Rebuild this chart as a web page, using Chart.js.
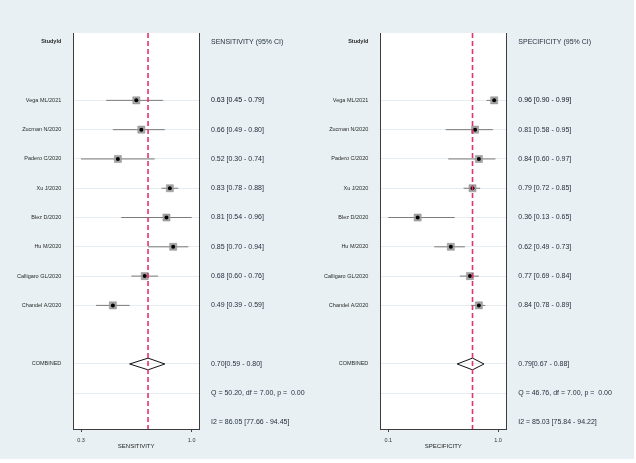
<!DOCTYPE html>
<html><head><meta charset="utf-8">
<script src="https://cdn.jsdelivr.net/npm/chart.js@4/dist/chart.umd.min.js"></script>
<style>
html,body{margin:0;padding:0;background:#fff;}
#bg{position:absolute;left:0;top:0;width:634px;height:459px;background:#e8f0f3;}
canvas{position:absolute;top:0;}
</style></head><body>
<div id="bg"></div>
<canvas id="c1" width="316" height="463" style="left:0px"></canvas>
<canvas id="c2" width="320" height="463" style="left:316px"></canvas>
<script>
// ---- data ----
const studies = ["Vega ML/2021","Zucman N/2020","Padero C/2020","Xu J/2020","Blez D/2020","Hu M/2020","Calligaro GL/2020","Chandel A/2020"];
const sensEst = [0.63,0.66,0.52,0.83,0.81,0.85,0.68,0.49];
const sensLo  = [0.45,0.49,0.30,0.78,0.54,0.70,0.60,0.39];
const sensHi  = [0.79,0.80,0.74,0.88,0.96,0.94,0.76,0.59];
const specEst = [0.96,0.81,0.84,0.79,0.36,0.62,0.77,0.84];
const specLo  = [0.90,0.58,0.60,0.72,0.13,0.49,0.69,0.78];
const specHi  = [0.99,0.95,0.97,0.85,0.65,0.73,0.84,0.89];
const sensPooled = [0.70,0.59,0.80];   // estimate, low, high
const specPooled = [0.79,0.67,0.88];
const sensHet = ["Q = 50.20, df = 7.00, p =  0.00","I2 = 86.05 [77.66 - 94.45]"];
const specHet = ["Q = 46.76, df = 7.00, p =  0.00","I2 = 85.03 [75.84 - 94.22]"];
const sensTicks = [0.30,0.96];
const specTicks = [0.13,0.99];

// ---- layout rows ----
const rows = [0,1,2,3,4,5,6,7,8,9,10,11,12,13];
const studyRows = [2,3,4,5,6,7,8,9];
const combRow = 11;
const gridRows = [2,3,4,5,6,7,8,9,11,12];
const YMIN = -0.3, YMAX = 13.22;
const F = "'Liberation Sans', Arial, sans-serif";

const fmt = (e,l,h)=>e.toFixed(2)+" ["+l.toFixed(2)+" - "+h.toFixed(2)+"]";

const bgPlugin = {id:'plotbg', beforeDraw(chart){
  const {ctx, chartArea:a} = chart;
  ctx.save(); ctx.fillStyle='#ffffff';
  ctx.fillRect(a.left, a.top, a.right-a.left, a.bottom-a.top); ctx.restore();
}};

function panel(id, c){
  const leftLabels = rows.map(()=> "");
  const rightLabels = rows.map(()=> "");
  leftLabels[0] = "StudyId"; rightLabels[0] = c.header;
  studies.forEach((s,i)=>{ leftLabels[studyRows[i]] = s; rightLabels[studyRows[i]] = fmt(c.est[i],c.lo[i],c.hi[i]); });
  leftLabels[combRow] = "COMBINED";
  rightLabels[combRow] = c.pooled[0].toFixed(2)+"["+c.pooled[1].toFixed(2)+" - "+c.pooled[2].toFixed(2)+"]";
  rightLabels[12] = c.het[0]; rightLabels[13] = c.het[1];

  const ci = [];
  studies.forEach((s,i)=>{ ci.push({x:c.lo[i],y:studyRows[i]},{x:c.hi[i],y:studyRows[i]},{x:null,y:null}); });
  const pts = studies.map((s,i)=>({x:c.est[i],y:studyRows[i]}));
  const dh = 0.2;
  const diamond = [{x:c.pooled[1],y:combRow},{x:c.pooled[0],y:combRow-dh},{x:c.pooled[2],y:combRow},{x:c.pooled[0],y:combRow+dh},{x:c.pooled[1],y:combRow}];
  const vline = [{x:c.pooled[0],y:YMIN},{x:c.pooled[0],y:YMAX}];

  const yTicks = s=>{ s.ticks = rows.map(v=>({value:v})); };

  new Chart(document.getElementById(id), {
    type:'scatter',
    data:{datasets:[
      {type:'line', data:vline, borderColor:'#e0356b', borderWidth:1.6, borderDash:[5,3], pointRadius:0, fill:false, order:0},
      {data:pts, pointStyle:'circle', pointRadius:2, backgroundColor:'#000', borderWidth:0, order:1},
      {data:pts, pointStyle:'rect', pointRadius:5, backgroundColor:'#a3a3a3', borderColor:'#8c8c8c', borderWidth:0.5, order:2},
      {type:'line', data:diamond, borderColor:'#111', borderWidth:1, pointRadius:0, fill:false, tension:0, order:3},
      {type:'line', data:ci, borderColor:'#7a7a7a', borderWidth:1, pointRadius:0, fill:false, spanGaps:false, order:4}
    ]},
    options:{
      responsive:false, animation:false, events:[],
      layout:{padding:{top:33,left:0,right:0,bottom:0}},
      plugins:{legend:{display:false}, tooltip:{enabled:false}},
      scales:{
        x:{type:'linear', min:c.xmin, max:c.xmax,
          afterBuildTicks:s=>{ s.ticks = c.ticks.map(v=>({value:v})); },
          afterFit:s=>{ s.height = 34; },
          grid:{display:true, drawOnChartArea:false, drawTicks:true, tickLength:3, tickColor:'#444', tickWidth:1},
          border:{display:true, color:'#3c3c3c', width:1},
          ticks:{callback:v=>Number(v).toFixed(1), font:{family:F,size:5.5}, color:'#333', padding:5.4, maxRotation:0, autoSkip:false},
          title:{display:true, text:c.title, font:{family:F,size:6}, color:'#222', padding:{top:0,bottom:12.7}}
        },
        y:{type:'linear', position:'left', reverse:true, min:YMIN, max:YMAX,
          afterBuildTicks:yTicks, afterFit:s=>{ s.width = c.leftW; },
          grid:{display:true, drawTicks:false, lineWidth:1, color:ctx=> (ctx.tick && gridRows.includes(ctx.tick.value)) ? '#e6edf2' : 'rgba(0,0,0,0)'},
          border:{display:true, color:'#3c3c3c', width:1},
          ticks:{autoSkip:false, padding:12, callback:(v,i)=>leftLabels[i]||'',
            font:ctx=>({family:F, size:5.5, weight: ctx.index===0 ? 'bold':'normal'}), color:'#2a2a2a'}
        },
        y2:{type:'linear', position:'right', reverse:true, min:YMIN, max:YMAX,
          afterBuildTicks:yTicks, afterFit:s=>{ s.width = c.rightW; },
          grid:{display:false, drawTicks:false},
          border:{display:true, color:'#3c3c3c', width:1},
          ticks:{autoSkip:false, padding:12, callback:(v,i)=>rightLabels[i]||'',
            font:{family:F, size:7}, color:ctx=> ctx.index===2 ? '#0d1420' : '#26313f'}
        }
      }
    },
    plugins:[bgPlugin]
  });
}

panel('c1', {est:sensEst, lo:sensLo, hi:sensHi, pooled:sensPooled, het:sensHet, ticks:sensTicks,
  xmin:0.254, xmax:1.004, header:"SENSITIVITY (95% CI)", title:"SENSITIVITY", leftW:73.3, rightW:117});
panel('c2', {est:specEst, lo:specLo, hi:specHi, pooled:specPooled, het:specHet, ticks:specTicks,
  xmin:0.067, xmax:1.055, header:"SPECIFICITY (95% CI)", title:"SPECIFICITY", leftW:64.3, rightW:129.7});
</script>
</body></html>
